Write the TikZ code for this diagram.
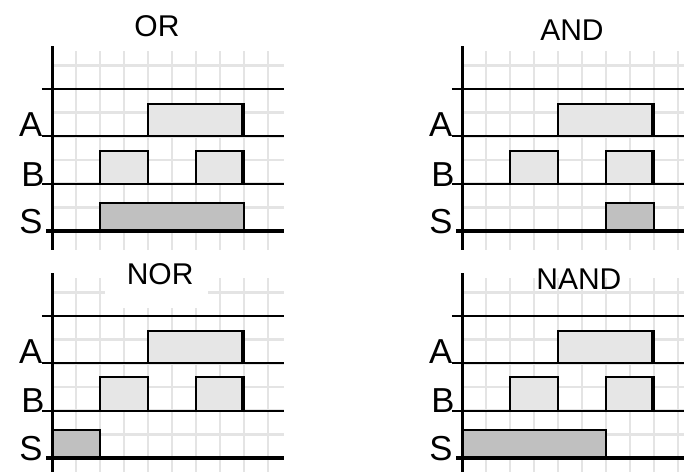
\documentclass[tikz,border=0pt]{standalone}
\usepackage{fontspec}
\setmainfont{Liberation Sans}

\definecolor{gridgray}{HTML}{E4E4E4}
\definecolor{pulsegray}{HTML}{E6E6E6}
\definecolor{outgray}{HTML}{C0C0C0}

\tikzset{
  gridline/.style={gridgray, line width=2pt},
  level/.style={black, line width=1.5pt},
  pulse/.style={draw=black, fill=pulsegray, line width=1.5pt},
  outpulse/.style={draw=black, fill=outgray, line width=1.5pt},
  lettr/.style={anchor=base east, inner sep=0pt, font=\fontsize{26}{26}\selectfont},
  gatename/.style={anchor=base, inner sep=0pt, font=\fontsize{22.5}{22.5}\selectfont},
}

\newcommand{\gatepanel}[5]{%
  \begin{scope}[shift={#2}]
    \draw[gridline, step=1] (0,-0.8) grid (#3,7.6);
    \draw[pulse] (4,4) rectangle (8,5.35);
    \draw[pulse] (2,2) rectangle (4,3.4);
    \draw[pulse] (6,2) rectangle (8,3.4);
    \draw[line width=3pt] (7.95,4) -- (7.95,5.35) (7.95,2) -- (7.95,3.4);
    \draw[outpulse] (#4,0) rectangle (#5,1.2);
    \draw[level] (-0.42,6) -- (#3,6) (-0.42,4) -- (#3,4) (-0.42,2) -- (#3,2);
    \draw[level, line width=2.5pt] (-0.25,0) -- (#3,0);
    \draw[line width=2.25pt] (0,-0.8) -- (0,7.8);
    \node[lettr] (#1A) at (-0.4,4) {A};
    \node[lettr] (#1B) at (-0.3,1.9) {B};
    \node[lettr] (#1S) at (-0.38,-0.1) {S};
  \end{scope}}

\begin{document}
\begin{tikzpicture}[x=18pt, y=17.75pt]
  \fill[white] (0,0) rectangle (28.5,19.94);
  \useasboundingbox (0,0) rectangle (28.5,19.94);
  \gatepanel{or}{(2.1667,10.18)}{9.67}{2}{8}
  \gatepanel{and}{(19.25,10.18)}{9.25}{6}{8}
  \gatepanel{nor}{(2.1667,0.5915)}{9.67}{0}{2}
  \gatepanel{nand}{(19.25,0.5915)}{9.25}{0}{6}
  \fill[white] (4.37,6.94) rectangle (8.67,8.59);
  \node[gatename] (orname) at (6.54,18.38) {OR};
  \node[gatename] (andname) at (23.83,18.21) {AND};
  \node[gatename] (norname) at (6.67,7.9) {NOR};
  \node[gatename] (nandname) at (24.12,7.69) {NAND};
\end{tikzpicture}
\end{document}
